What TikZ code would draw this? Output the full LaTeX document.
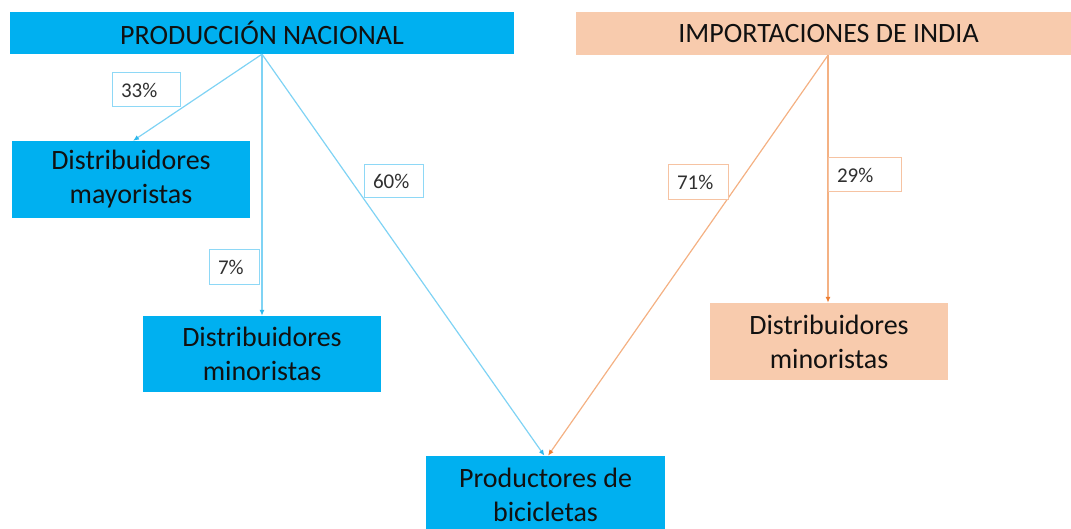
\documentclass[tikz,border=0pt]{standalone}
\usepackage{fontspec}
\setmainfont{Carlito}
\usetikzlibrary{arrows.meta}
\definecolor{bfill}{HTML}{00B0F0}
\definecolor{bline}{HTML}{7FD3F4}
\definecolor{bhead}{HTML}{2EB8EC}
\definecolor{blab}{HTML}{8ED8F6}
\definecolor{ofill}{HTML}{F8CBAD}
\definecolor{oline}{HTML}{F4B183}
\definecolor{ohead}{HTML}{ED7D31}
\definecolor{olab}{HTML}{F6C3A2}
\definecolor{txt}{HTML}{111111}
\definecolor{ltxt}{HTML}{303030}
\begin{document}
\begin{tikzpicture}[x=1pt,y=-1pt,
  boxbase/.style={rectangle, inner sep=0pt, text=txt, align=center,
    font=\fontsize{28}{34}\selectfont},
  bluebox/.style={boxbase, fill=bfill},
  orbox/.style={boxbase, fill=ofill},
  lblbase/.style={rectangle, fill=white, line width=1pt, inner xsep=9pt, inner ysep=0pt,
    align=left, text=ltxt, font=\fontsize{21}{24}\selectfont},
  bluelbl/.style={lblbase, draw=blab},
  orlbl/.style={lblbase, draw=olab},
  bluearr/.style={draw=bline, line width=1.2pt, -{Latex[length=6pt,width=5pt,color=bhead]}},
  orarr/.style={draw=oline, line width=1.2pt, -{Latex[length=6pt,width=5pt,color=ohead]}}
]
\useasboundingbox (0,0) rectangle (1071,529);

% boxes
\node[bluebox, minimum width=504pt, minimum height=42pt] (pn) at (262,33) {PRODUCCIÓN NACIONAL};
\node[orbox, minimum width=505pt, minimum height=43pt] (imp) at (828.5,33.5) {IMPORTACIONES DE INDIA};
\node[bluebox, minimum width=238pt, minimum height=77pt] (may) at (131,179.5) {Distribuidores\\mayoristas};
\node[bluebox, minimum width=238pt, minimum height=76pt] (minL) at (262,354) {Distribuidores\\minoristas};
\node[bluebox, minimum width=239pt, minimum height=77pt] (prod) at (545.5,494.5) {Productores de\\bicicletas};
\node[orbox, minimum width=238pt, minimum height=77pt] (minR) at (829,341.5) {Distribuidores\\minoristas};

% connectors
\coordinate (ps) at (pn.south);
\coordinate (is) at ([xshift=-0.5pt]imp.south);
\coordinate (pin1) at ([xshift=-1pt]prod.north);
\coordinate (pin2) at ([xshift=2.5pt]prod.north);
\coordinate (mayin) at ([xshift=2pt]may.north);
\draw[bluearr] (ps) -- (mayin);
\draw[bluearr] (ps) -- (minL.north);
\draw[bluearr] (ps) -- (pin1);
\draw[orarr] (is) -- (pin2);
\draw[orarr] (is) -- ([xshift=-1pt]minR.north);

% labels
\node[bluelbl, minimum height=34pt, text width=50pt] (l33) at (146,90) {33\%};
\node[bluelbl, minimum height=33pt, text width=41pt] (l60) at (393.5,181.5) {60\%};
\node[bluelbl, minimum height=35pt, text width=32pt] (l7) at (234,267.5) {7\%};
\node[orlbl, minimum height=35pt, text width=42pt] (l71) at (698,182.5) {71\%};
\node[orlbl, minimum height=34pt, text width=55pt] (l29) at (864.5,175) {29\%};
\end{tikzpicture}
\end{document}
